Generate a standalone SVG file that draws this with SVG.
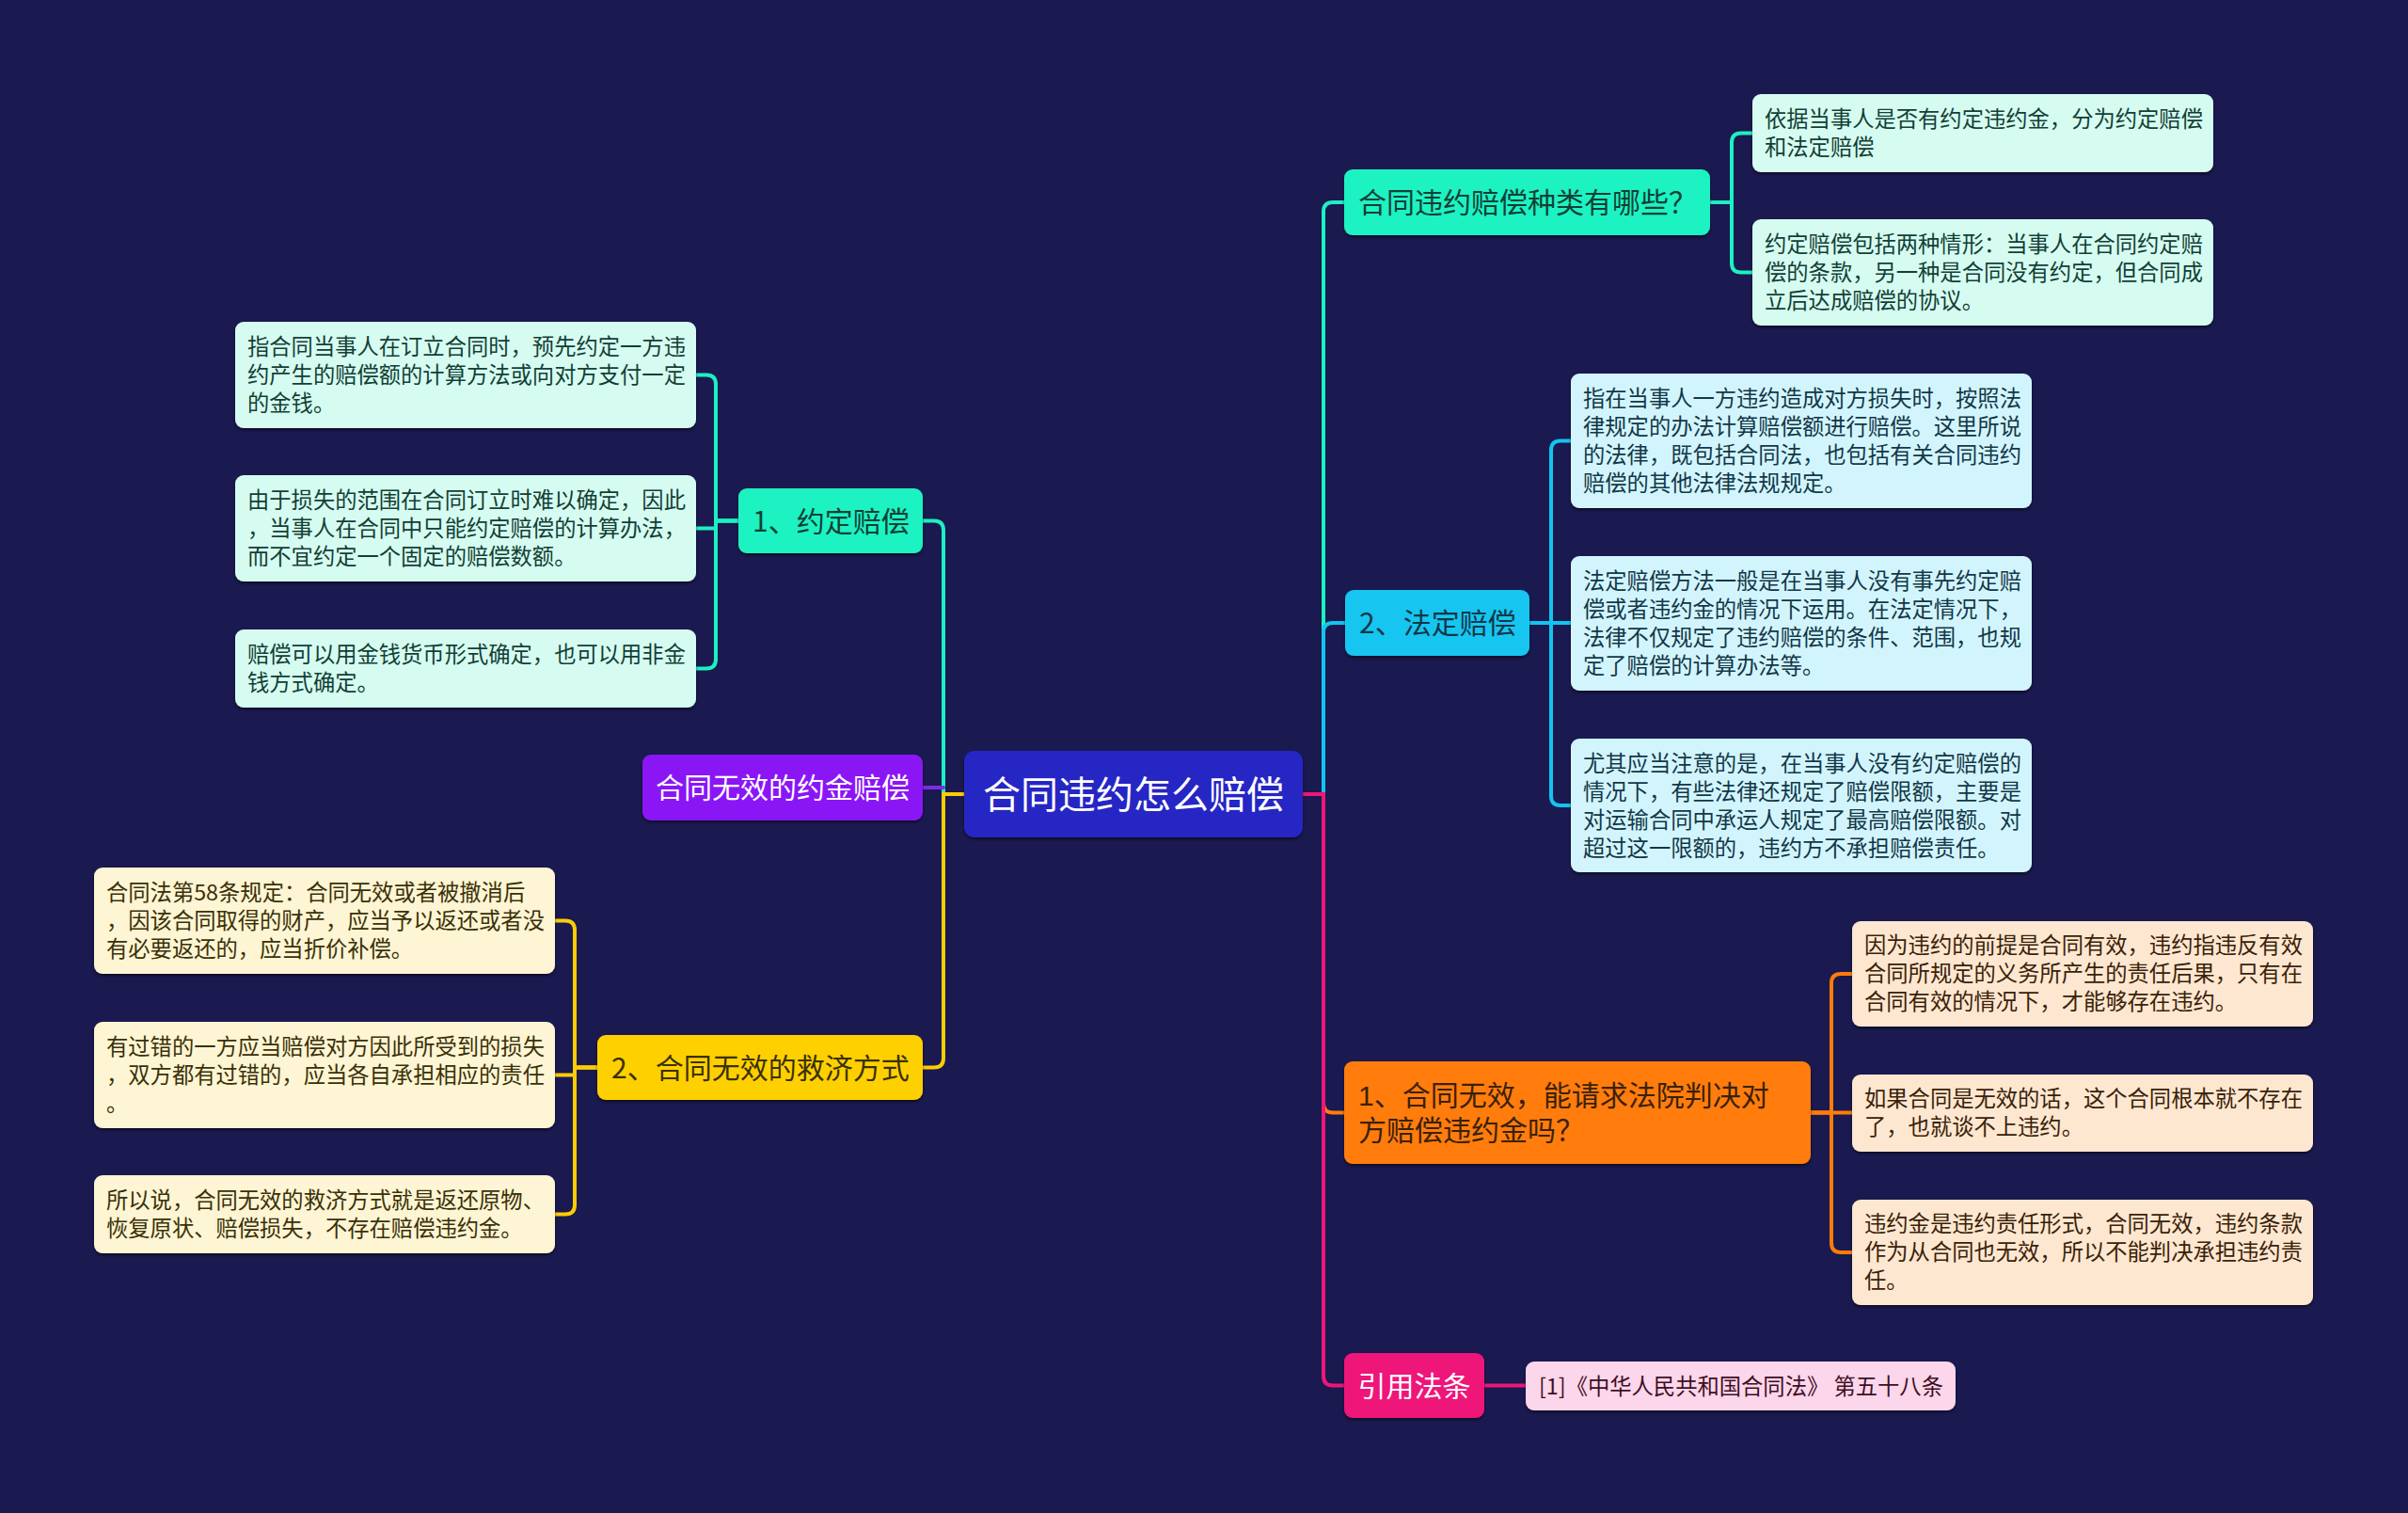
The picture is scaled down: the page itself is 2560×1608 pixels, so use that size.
<svg xmlns="http://www.w3.org/2000/svg" width="2560" height="1608" viewBox="0 0 2560 1608">
<defs>
<filter id="sh" x="-5%" y="-10%" width="110%" height="130%">
<feDropShadow dx="0" dy="2" stdDeviation="1.5" flood-color="#000" flood-opacity="0.55"/>
</filter>
<style>
text{font-family:"Noto Sans CJK SC","Noto Sans",sans-serif;}
text.tight{font-family:"Liberation Sans","Noto Sans CJK SC",sans-serif;}
.leaf{font-size:23.3px;}
.br{font-size:30px;}
.root{font-size:40px;fill:#ffffff;}
.c{fill:none;stroke-width:4;stroke-linecap:round;}
.teal{stroke:#1df0c2;} .cyan{stroke:#14c4ee;} .orange{stroke:#ff7c0a;} .pink{stroke:#ec1779;} .purple{stroke:#7a2ee0;} .yellow{stroke:#fccc05;}
.tl{fill:#d6fcf1;} .cl{fill:#d2f5fd;} .ol{fill:#fde7d0;} .pl{fill:#fcd6ea;} .yl{fill:#fdf5d3;}
.tt{fill:#123f35;} .ct{fill:#123748;} .ot{fill:#3a2108;} .pt{fill:#3d0f24;} .yt{fill:#3a3008;}
</style>
</defs>
<rect x="0" y="0" width="2560" height="1608" fill="#1a1950"/>
<g id="connectors">
<path class="c teal" d="M1385,844 H1407 V225 Q1407,215 1417,215 H1429"/>
<path class="c cyan" d="M1385,844 H1407 V672 Q1407,662 1417,662 H1430"/>
<path class="c orange" d="M1385,844 H1407 V1172.5 Q1407,1182.5 1417,1182.5 H1429"/>
<path class="c pink" d="M1385,844 H1407 V1462.5 Q1407,1472.5 1417,1472.5 H1429"/>
<path class="c teal" d="M1025,844 H1003 V563.5 Q1003,553.5 993,553.5 H981"/>
<path class="c purple" d="M1003,837 H981"/>
<path class="c yellow" d="M1025,844 H1003 V1124.5 Q1003,1134.5 993,1134.5 H981"/>
<path class="c teal" d="M1818,215 H1841 V151.5 Q1841,141.5 1851,141.5 H1863"/>
<path class="c teal" d="M1818,215 H1841 V279.5 Q1841,289.5 1851,289.5 H1863"/>
<path class="c cyan" d="M1626,662 H1649 V478.5 Q1649,468.5 1659,468.5 H1670"/>
<path class="c cyan" d="M1626,662 H1670"/>
<path class="c cyan" d="M1626,662 H1649 V846 Q1649,856 1659,856 H1670"/>
<path class="c orange" d="M1925,1182.5 H1947 V1045 Q1947,1035 1957,1035 H1969"/>
<path class="c orange" d="M1925,1182.5 H1969"/>
<path class="c orange" d="M1925,1182.5 H1947 V1321 Q1947,1331 1957,1331 H1969"/>
<path class="c pink" d="M1578,1472.5 H1622"/>
<path class="c teal" d="M785,553.5 H761 V408.5 Q761,398.5 751,398.5 H740"/>
<path class="c teal" d="M785,553.5 H761 V561.5 H740"/>
<path class="c teal" d="M785,553.5 H761 V700.5 Q761,710.5 751,710.5 H740"/>
<path class="c yellow" d="M635,1134.5 H611 V988.5 Q611,978.5 601,978.5 H590"/>
<path class="c yellow" d="M635,1134.5 H611 V1142.5 H590"/>
<path class="c yellow" d="M635,1134.5 H611 V1280.5 Q611,1290.5 601,1290.5 H590"/>
</g>
<g id="root">
<rect x="1025" y="798" width="360" height="92" rx="11" fill="#2626c4" filter="url(#sh)"/>
<text class="root" x="1205" y="859" text-anchor="middle">合同违约怎么赔偿</text>
</g>
<g id="rb1">
<rect x="1429" y="180" width="389" height="70" rx="9" fill="#1df2c2" filter="url(#sh)"/>
<text class="br tt" x="1444" y="226">合同违约赔偿种类有哪些？</text>
</g>
<g id="rb1a">
<rect x="1863" y="100" width="490" height="83" rx="9" class="tl" filter="url(#sh)"/>
<text class="leaf tt" x="1876" y="135">依据当事人是否有约定违约金，分为约定赔偿</text>
<text class="leaf tt" x="1876" y="165">和法定赔偿</text>
</g>
<g id="rb1b">
<rect x="1863" y="233" width="490" height="113" rx="9" class="tl" filter="url(#sh)"/>
<text class="leaf tt" x="1876" y="268">约定赔偿包括两种情形：当事人在合同约定赔</text>
<text class="leaf tt" x="1876" y="298">偿的条款，另一种是合同没有约定，但合同成</text>
<text class="leaf tt" x="1876" y="328">立后达成赔偿的协议。</text>
</g>
<g id="rb2">
<rect x="1430" y="627" width="196" height="70" rx="9" fill="#14c6f0" filter="url(#sh)"/>
<text class="br ct" x="1445" y="673">2、法定赔偿</text>
</g>
<g id="rb2a">
<rect x="1670" y="397" width="490" height="143" rx="9" class="cl" filter="url(#sh)"/>
<text class="leaf ct" x="1683" y="432">指在当事人一方违约造成对方损失时，按照法</text>
<text class="leaf ct" x="1683" y="462">律规定的办法计算赔偿额进行赔偿。这里所说</text>
<text class="leaf ct" x="1683" y="492">的法律，既包括合同法，也包括有关合同违约</text>
<text class="leaf ct" x="1683" y="522">赔偿的其他法律法规规定。</text>
</g>
<g id="rb2b">
<rect x="1670" y="591" width="490" height="143" rx="9" class="cl" filter="url(#sh)"/>
<text class="leaf ct" x="1683" y="626">法定赔偿方法一般是在当事人没有事先约定赔</text>
<text class="leaf ct" x="1683" y="656">偿或者违约金的情况下运用。在法定情况下，</text>
<text class="leaf ct" x="1683" y="686">法律不仅规定了违约赔偿的条件、范围，也规</text>
<text class="leaf ct" x="1683" y="716">定了赔偿的计算办法等。</text>
</g>
<g id="rb2c">
<rect x="1670" y="785" width="490" height="142" rx="9" class="cl" filter="url(#sh)"/>
<text class="leaf ct" x="1683" y="820">尤其应当注意的是，在当事人没有约定赔偿的</text>
<text class="leaf ct" x="1683" y="850">情况下，有些法律还规定了赔偿限额，主要是</text>
<text class="leaf ct" x="1683" y="880">对运输合同中承运人规定了最高赔偿限额。对</text>
<text class="leaf ct" x="1683" y="910">超过这一限额的，违约方不承担赔偿责任。</text>
</g>
<g id="rb3">
<rect x="1429" y="1128" width="496" height="109" rx="9" fill="#ff7c0a" filter="url(#sh)"/>
<text class="br ot tight" x="1444" y="1175">1、合同无效，能请求法院判决对</text>
<text class="br ot tight" x="1444" y="1212">方赔偿违约金吗？</text>
</g>
<g id="rb3a">
<rect x="1969" y="979" width="490" height="112" rx="9" class="ol" filter="url(#sh)"/>
<text class="leaf ot" x="1982" y="1013">因为违约的前提是合同有效，违约指违反有效</text>
<text class="leaf ot" x="1982" y="1043">合同所规定的义务所产生的责任后果，只有在</text>
<text class="leaf ot" x="1982" y="1073">合同有效的情况下，才能够存在违约。</text>
</g>
<g id="rb3b">
<rect x="1969" y="1142" width="490" height="82" rx="9" class="ol" filter="url(#sh)"/>
<text class="leaf ot" x="1982" y="1176">如果合同是无效的话，这个合同根本就不存在</text>
<text class="leaf ot" x="1982" y="1206">了，也就谈不上违约。</text>
</g>
<g id="rb3c">
<rect x="1969" y="1275" width="490" height="112" rx="9" class="ol" filter="url(#sh)"/>
<text class="leaf ot" x="1982" y="1309">违约金是违约责任形式，合同无效，违约条款</text>
<text class="leaf ot" x="1982" y="1339">作为从合同也无效，所以不能判决承担违约责</text>
<text class="leaf ot" x="1982" y="1369">任。</text>
</g>
<g id="rb4">
<rect x="1429" y="1438" width="149" height="69" rx="9" fill="#ef147a" filter="url(#sh)"/>
<text class="br" x="1503.5" y="1484" text-anchor="middle" fill="#ffffff">引用法条</text>
</g>
<g id="rb4a">
<rect x="1622" y="1447" width="457" height="52" rx="9" class="pl" filter="url(#sh)"/>
<text class="leaf pt" x="1636" y="1482">[1]《中华人民共和国合同法》 第五十八条</text>
</g>
<g id="lb1">
<rect x="785" y="519" width="196" height="69" rx="9" fill="#1df2c2" filter="url(#sh)"/>
<text class="br tt" x="800" y="565">1、约定赔偿</text>
</g>
<g id="lb1a">
<rect x="250" y="342" width="490" height="113" rx="9" class="tl" filter="url(#sh)"/>
<text class="leaf tt" x="263" y="377">指合同当事人在订立合同时，预先约定一方违</text>
<text class="leaf tt" x="263" y="407">约产生的赔偿额的计算方法或向对方支付一定</text>
<text class="leaf tt" x="263" y="437">的金钱。</text>
</g>
<g id="lb1b">
<rect x="250" y="505" width="490" height="113" rx="9" class="tl" filter="url(#sh)"/>
<text class="leaf tt" x="263" y="540">由于损失的范围在合同订立时难以确定，因此</text>
<text class="leaf tt" x="263" y="570">，当事人在合同中只能约定赔偿的计算办法，</text>
<text class="leaf tt" x="263" y="600">而不宜约定一个固定的赔偿数额。</text>
</g>
<g id="lb1c">
<rect x="250" y="669" width="490" height="83" rx="9" class="tl" filter="url(#sh)"/>
<text class="leaf tt" x="263" y="704">赔偿可以用金钱货币形式确定，也可以用非金</text>
<text class="leaf tt" x="263" y="734">钱方式确定。</text>
</g>
<g id="lb2">
<rect x="683" y="802" width="298" height="70" rx="9" fill="#8a18f6" filter="url(#sh)"/>
<text class="br" x="697" y="848" fill="#ffffff">合同无效的约金赔偿</text>
</g>
<g id="lb3">
<rect x="635" y="1100" width="346" height="69" rx="9" fill="#ffd000" filter="url(#sh)"/>
<text class="br yt" x="650" y="1146">2、合同无效的救济方式</text>
</g>
<g id="lb3a">
<rect x="100" y="922" width="490" height="113" rx="9" class="yl" filter="url(#sh)"/>
<text class="leaf yt" x="113" y="957">合同法第58条规定：合同无效或者被撤消后</text>
<text class="leaf yt" x="113" y="987">，因该合同取得的财产，应当予以返还或者没</text>
<text class="leaf yt" x="113" y="1017">有必要返还的，应当折价补偿。</text>
</g>
<g id="lb3b">
<rect x="100" y="1086" width="490" height="113" rx="9" class="yl" filter="url(#sh)"/>
<text class="leaf yt" x="113" y="1121">有过错的一方应当赔偿对方因此所受到的损失</text>
<text class="leaf yt" x="113" y="1151">，双方都有过错的，应当各自承担相应的责任</text>
<text class="leaf yt" x="113" y="1181">。</text>
</g>
<g id="lb3c">
<rect x="100" y="1249" width="490" height="83" rx="9" class="yl" filter="url(#sh)"/>
<text class="leaf yt" x="113" y="1284">所以说，合同无效的救济方式就是返还原物、</text>
<text class="leaf yt" x="113" y="1314">恢复原状、赔偿损失，不存在赔偿违约金。</text>
</g>
</svg>
